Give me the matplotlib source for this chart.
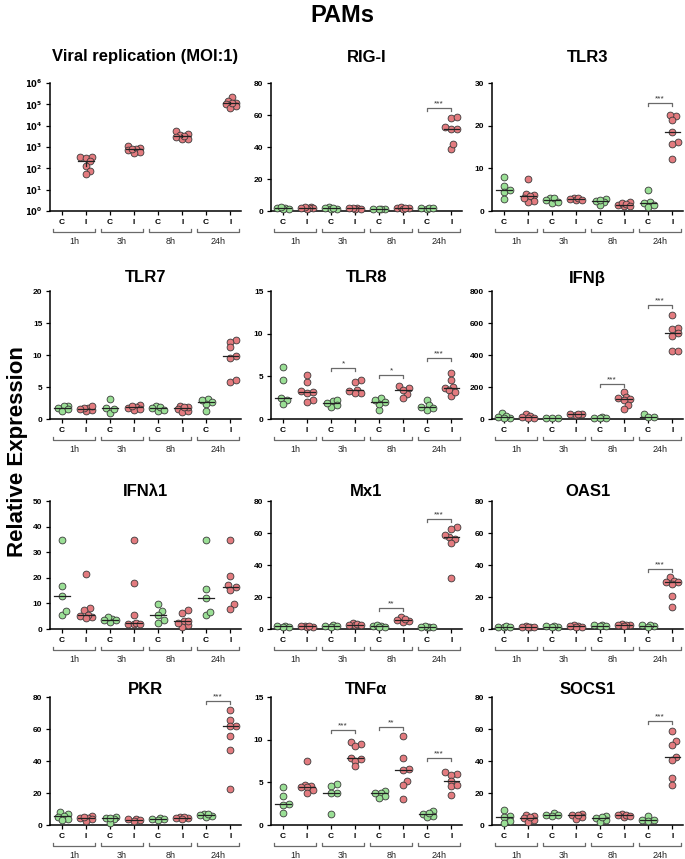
import numpy as np
import matplotlib
matplotlib.use('Agg')
import matplotlib.pyplot as plt
from matplotlib import transforms

plt.rcParams['font.family'] = ['Liberation Sans', 'DejaVu Sans']
plt.rcParams['mathtext.default'] = 'bf'

# values (4 time points: 1h, 3h, 8h, 24h)
times = ['1h', '3h', '8h', '24h']

viral_c = [[], [], [], []]
viral_i = [[330, 310, 340, 210, 130, 78, 52],
           [1100, 900, 800, 700, 600, 550, 850],
           [5500, 4200, 3500, 3000, 2500, 2300, 3200],
           [220000, 140000, 120000, 100000, 85000, 70000, 110000]]

rig_c = [[2.0, 1.5, 1.8, 1.2, 2.2], [2.8, 1.5, 1.8, 1.2, 2.0], [1.2, 1.5, 1.0, 1.3], [1.8, 1.5, 2.0, 1.6]]
rig_i = [[2.5, 1.8, 2.0, 1.5, 2.2, 1.9], [1.8, 1.5, 1.3, 2.0, 1.7], [2.0, 1.8, 2.2, 1.5, 2.1],
         [58, 59, 51, 51.5, 52.5, 39, 42]]
rig_sig = [(3, 64.5, '***')]

tlr3_c = [[8.0, 5.8, 4.5, 4.9, 2.8], [3.1, 2.6, 1.9, 3.0, 2.2], [2.8, 2.2, 1.4, 2.3, 2.6], [4.9, 2.2, 1.8, 1.0, 1.4]]
tlr3_i = [[7.5, 3.7, 3.9, 3.4, 2.4, 2.2, 3.0], [3.1, 2.8, 2.6, 3.0, 2.6], [2.0, 1.4, 1.2, 1.8, 1.6, 1.2],
          [22.3, 22.5, 21.3, 18.4, 16.2, 15.8, 12.1]]
tlr3_sig = [(3, 25.3, '***')]

tlr7_c = [[2.1, 2.0, 1.7, 1.2, 1.5], [3.2, 1.7, 1.0, 1.6], [2.0, 1.7, 1.3, 1.8, 1.4], [3.1, 2.7, 2.3, 1.2, 3.0]]
tlr7_i = [[1.7, 1.4, 1.2, 2.1, 1.7, 1.5], [2.2, 1.9, 1.7, 1.4, 2.1, 1.5], [2.1, 1.6, 1.1, 1.3, 1.9, 1.8],
          [12.3, 12.1, 11.3, 9.8, 9.5, 5.8, 6.1]]
tlr7_sig = []

tlr8_c = [[6.1, 4.6, 2.5, 2.2, 1.7], [2.1, 1.4, 1.9, 2.2, 1.6], [2.5, 2.0, 1.1, 1.8, 2.2], [2.2, 1.6, 1.1, 1.3, 1.4]]
tlr8_i = [[4.3, 5.1, 3.3, 3.1, 2.2, 2.0, 3.2], [4.6, 4.3, 3.4, 3.1, 3.0, 3.3], [3.9, 3.6, 2.9, 2.5, 3.4],
          [5.4, 4.6, 3.8, 3.6, 3.4, 2.7, 3.2]]
tlr8_sig = [(1, 6.0, '*'), (2, 5.2, '*'), (3, 7.2, '***')]

ifnb_c = [[35, 15, 8, 19, 4], [8, 4, 8], [10, 6, 8, 4], [29, 15, 10]]
ifnb_i = [[29, 21, 8, 4, 15], [31, 29, 23, 31], [166, 135, 129, 123, 118, 87, 60],
          [650, 563, 570, 535, 518, 424, 426]]
ifnb_sig = [(2, 216, '***'), (3, 711, '***')]

ifnl_c = [[34.7, 16.8, 12.9, 5.4, 7.1], [3.8, 2.7, 4.7, 3.4, 3.7], [9.7, 7.1, 3.4, 2.3, 5.4],
          [34.7, 15.8, 12.3, 5.4, 6.7]]
ifnl_i = [[21.4, 8.2, 7.3, 4.7, 5.6, 5.1, 4.4], [34.7, 17.8, 5.6, 2.1, 1.8, 2.3, 2.0],
          [7.3, 6.4, 3.0, 1.7, 0.8, 2.3, 3.1], [34.7, 20.8, 16.4, 17.3, 15.4, 9.7, 8.0]]
ifnl_sig = []

mx1_c = [[2.0, 1.5, 1.2, 1.8], [2.2, 1.5, 2.0, 1.8], [2.0, 1.5, 1.8, 2.2, 1.2], [1.5, 1.0, 1.8, 1.2, 1.4]]
mx1_i = [[1.5, 2.0, 1.2, 1.8, 1.6], [3.5, 2.8, 2.2, 3.0, 2.5], [7.7, 5.2, 4.2, 6.3, 5.9],
         [63.5, 62.2, 57.3, 58.8, 56.5, 53.8, 32.0]]
mx1_sig = [(2, 13.0, '**'), (3, 68.7, '***')]

oas_c = [[1.5, 1.0, 2.0, 1.2], [1.5, 1.8, 1.2, 1.6], [2.2, 2.5, 1.8, 2.0], [2.2, 1.8, 2.5, 1.5]]
oas_i = [[1.5, 1.2, 1.8, 1.0, 1.4], [2.0, 1.5, 2.2, 1.2, 1.8], [3.0, 2.5, 2.2, 2.8, 2.0],
         [32.2, 29.9, 29.2, 28.2, 20.5, 13.8, 29.4]]
oas_sig = [(3, 37.8, '***')]

pkr_c = [[8.2, 6.7, 5.2, 5.7, 3.6, 2.9], [5.0, 4.2, 3.6, 1.5, 4.6], [4.2, 3.6, 2.9, 4.0], [7.1, 6.3, 5.7, 5.0, 6.7]]
pkr_i = [[5.7, 4.6, 3.6, 2.5, 4.2, 5.0], [4.0, 3.1, 2.5, 3.6], [5.2, 4.6, 4.2, 5.0, 4.0],
         [71.6, 65.7, 61.8, 61.8, 55.5, 47.1, 22.5]]
pkr_sig = [(3, 77.3, '***')]

tnf_c = [[4.5, 3.4, 2.5, 2.3, 1.4], [4.8, 4.6, 3.8, 3.8, 1.3], [4.0, 3.8, 3.4, 3.2, 3.7], [1.6, 1.3, 1.1, 0.9, 1.4]]
tnf_i = [[7.5, 4.7, 4.6, 4.4, 4.1, 3.8, 4.5], [9.5, 9.7, 9.2, 7.9, 7.5, 6.9, 7.7],
         [10.4, 7.8, 6.6, 6.5, 5.1, 4.7, 3.0], [6.2, 6.0, 5.9, 5.2, 4.6, 4.7, 3.5]]
tnf_sig = [(1, 11.1, '***'), (2, 11.5, '**'), (3, 7.9, '***')]

socs_c = [[9.2, 5.8, 4.8, 2.3, 1.3], [7.5, 6.0, 5.4, 6.5], [5.4, 4.4, 2.9, 1.9, 4.8], [5.8, 3.3, 2.3, 2.9]]
socs_i = [[6.5, 5.4, 4.4, 3.3, 1.7, 4.8], [6.9, 6.0, 5.0, 3.8, 6.5], [7.1, 6.0, 5.0, 6.5, 5.8],
          [58.5, 52.3, 49.8, 42.3, 40.4, 29.4, 25.2]]
socs_sig = [(3, 65.2, '***')]

GREEN = '#9ADF95'
RED = '#E37B7F'
EDGE = '#3a3a3a'
BRK = '#6a6a6a'

W, H = 685, 859
fig = plt.figure(figsize=(W / 100, H / 100), dpi=100)

col_left = [50, 271, 492]
row_top = [83, 291, 501, 697]
row_title = [57, 278, 492, 690]
AW, AH = 191, 128


def swarm(ypx, d, maxoff):
    # simple beeswarm in pixel space, spread limited to maxoff
    order = np.argsort(ypx)
    xs = np.zeros(len(ypx))
    placed = []
    step = d * 0.4
    cands = [0.0]
    k = 1
    while k * step <= maxoff:
        cands += [k * step, -k * step]
        k += 1
    for i in order:
        best, bestd = None, -1
        for c in cands:
            md = min([np.hypot(c - px, ypx[i] - py) for px, py in placed] or [1e9])
            if md >= d:
                best = c
                break
            if md > bestd:
                bestd, best = md, c
        xs[i] = best
        placed.append((best, ypx[i]))
    return xs


def panel(row, col, title, ctrl, inf, ylim, yticks, sig, log=False):
    l = col_left[col]
    t = row_top[row]
    ax = fig.add_axes([l / W, 1 - (t + AH) / H, AW / W, AH / H])
    ax.set_xlim(-0.5, 7.45)
    if log:
        ax.set_yscale('log')
    ax.set_ylim(ylim)
    ax.set_yticks(yticks)
    if log:
        ax.set_yticklabels(['$10^{%d}$' % int(np.log10(v)) for v in yticks])
        ax.minorticks_off()
    ax.set_xticks(range(8))
    ax.set_xticklabels([])
    for s in ['top', 'right']:
        ax.spines[s].set_visible(False)
    for s in ['left', 'bottom']:
        ax.spines[s].set_linewidth(1.1)
    ax.tick_params(length=3, width=0.9, labelsize=6, pad=2.5)
    for lab in ax.get_yticklabels():
        lab.set_fontweight('bold')

    ppu = ax.transData.transform((1, ylim[0]))[0] - ax.transData.transform((0, ylim[0]))[0]
    for g in range(4):
        for j, vals, colr in ((0, ctrl[g], GREEN), (1, inf[g], RED)):
            x0 = 2 * g + j
            if len(vals) == 0:
                continue
            y = np.array(vals, dtype=float)
            ypx = ax.transData.transform(np.column_stack([np.full(len(y), x0), y]))[:, 1]
            offs = swarm(ypx, 5.0, 0.3 * ppu)
            ax.scatter(x0 + offs / ppu, y, s=24, c=colr, edgecolors=EDGE, linewidths=0.6,
                       zorder=3, clip_on=False)
            med = np.median(y)
            ax.plot([x0 - 0.32, x0 + 0.32], [med, med], color='#222222', lw=0.9, zorder=4,
                    clip_on=False)
            if log:
                lg = np.log10(y)
                sem = lg.std(ddof=1) / np.sqrt(len(lg))
                ax.plot([x0, x0], [10 ** (lg.mean() - sem), 10 ** (lg.mean() + sem)],
                        color='#222222', lw=0.9, zorder=4)

    # C / I labels and time brackets under the axis
    tr = transforms.blended_transform_factory(ax.transData, ax.transAxes)
    for g in range(4):
        ax.text(2 * g, -11 / AH, 'C', transform=tr, ha='center', va='center', fontsize=6,
                fontweight='bold')
        ax.text(2 * g + 1, -11 / AH, 'I', transform=tr, ha='center', va='center', fontsize=6,
                fontweight='bold')
        x1, x2 = 2 * g - 0.38, 2 * g + 1 + 0.38
        yb = -21 / AH
        ax.plot([x1, x1, x2, x2], [yb + 3 / AH, yb, yb, yb + 3 / AH], transform=tr,
                color=BRK, lw=0.9, clip_on=False)
        ax.text(2 * g + 0.5, -30 / AH, times[g], transform=tr, ha='center', va='center',
                fontsize=6.5, color='#222222')

    # significance brackets
    for g, ys, lab in sig:
        dy = 3 * (ylim[1] - ylim[0]) / AH
        x1, x2 = 2 * g, 2 * g + 1
        ax.plot([x1, x1, x2, x2], [ys - dy, ys, ys, ys - dy], color=BRK, lw=0.9, zorder=2)
        ax.text((x1 + x2) / 2, ys + 0.6 * (ylim[1] - ylim[0]) / AH, lab, ha='center',
                va='bottom', fontsize=6, color='#333333')

    fig.text((l + AW / 2) / W, 1 - row_title[row] / H, title, ha='center', va='center',
             fontsize=12, fontweight='bold')
    return ax


panel(0, 0, 'Viral replication (MOI:1)', viral_c, viral_i, (1, 1e6),
      [1, 10, 100, 1e3, 1e4, 1e5, 1e6], [], log=True)
panel(0, 1, 'RIG-I', rig_c, rig_i, (0, 80), [0, 20, 40, 60, 80], rig_sig)
panel(0, 2, 'TLR3', tlr3_c, tlr3_i, (0, 30), [0, 10, 20, 30], tlr3_sig)
panel(1, 0, 'TLR7', tlr7_c, tlr7_i, (0, 20), [0, 5, 10, 15, 20], tlr7_sig)
panel(1, 1, 'TLR8', tlr8_c, tlr8_i, (0, 15), [0, 5, 10, 15], tlr8_sig)
panel(1, 2, 'IFNβ', ifnb_c, ifnb_i, (0, 800), [0, 200, 400, 600, 800], ifnb_sig)
panel(2, 0, 'IFNλ1', ifnl_c, ifnl_i, (0, 50), [0, 10, 20, 30, 40, 50], ifnl_sig)
panel(2, 1, 'Mx1', mx1_c, mx1_i, (0, 80), [0, 20, 40, 60, 80], mx1_sig)
panel(2, 2, 'OAS1', oas_c, oas_i, (0, 80), [0, 20, 40, 60, 80], oas_sig)
panel(3, 0, 'PKR', pkr_c, pkr_i, (0, 80), [0, 20, 40, 60, 80], pkr_sig)
panel(3, 1, 'TNFα', tnf_c, tnf_i, (0, 15), [0, 5, 10, 15], tnf_sig)
panel(3, 2, 'SOCS1', socs_c, socs_i, (0, 80), [0, 20, 40, 60, 80], socs_sig)

fig.text(342 / W, 1 - 16 / H, 'PAMs', ha='center', va='center', fontsize=17, fontweight='bold')
fig.text(18 / W, 1 - 452 / H, 'Relative Expression', ha='center', va='center', rotation=90,
         fontsize=16, fontweight='bold')

fig.savefig('out.png', dpi=100)
